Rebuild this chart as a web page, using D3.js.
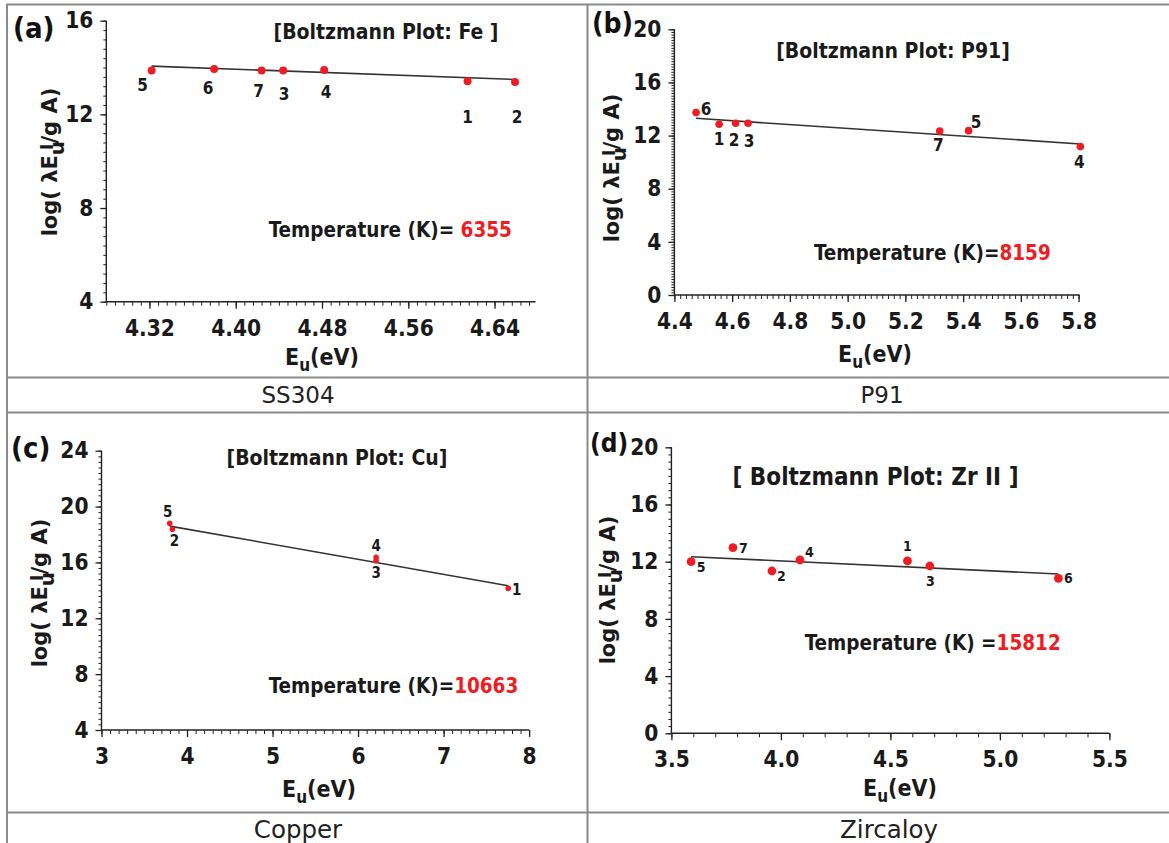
<!DOCTYPE html>
<html><head><meta charset="utf-8">
<script src="https://cdn.jsdelivr.net/npm/d3@7"></script>
<style>
html,body{margin:0;padding:0;background:#fff;}
svg{display:block;}
</style></head><body>
<svg id="chart" width="1169" height="843"></svg>
<script>
// ---------------- data ----------------
// (a) SS304 - Fe lines
const idsA = ["5","6","7","3","4","1","2"];
const energyA = [4.322,4.380,4.424,4.444,4.482,4.615,4.659];
const logIntA = [13.87,13.94,13.87,13.87,13.90,13.41,13.38];
const fitEnergyA = [4.322,4.659];
const fitLogA = [14.06,13.49];
const xTicksA = [4.32,4.40,4.48,4.56,4.64];
const yTicksA = [4,8,12,16];
const tempA = "6355";

// (b) P91
const idsB = ["6","1","2","3","7","5","4"];
const energyB = [4.475,4.555,4.612,4.655,5.319,5.419,5.806];
const logIntB = [13.73,12.85,12.93,12.93,12.35,12.37,11.17];
const fitEnergyB = [4.475,5.806];
const fitLogB = [13.30,11.37];
const xTicksB = [4.4,4.6,4.8,5.0,5.2,5.4,5.6,5.8];
const yTicksB = [0,4,8,12,16,20];
const tempB = "8159";

// (c) Copper
const idsC = ["5","2","4","3","1"];
const energyC = [3.798,3.829,6.211,6.211,7.756];
const logIntC = [18.80,18.37,16.36,16.12,14.14];
const fitEnergyC = [3.798,7.756];
const fitLogC = [18.60,14.33];
const xTicksC = [3,4,5,6,7,8];
const yTicksC = [4,8,12,16,20,24];
const tempC = "10663";

// (d) Zircaloy - Zr II
const idsD = ["5","7","2","4","1","3","6"];
const energyD = [3.590,3.781,3.959,4.087,4.578,4.680,5.267];
const logIntD = [12.00,12.98,11.35,12.12,12.05,11.70,10.84];
const fitEnergyD = [3.590,5.267];
const fitLogD = [12.35,11.14];
const xTicksD = [3.5,4.0,4.5,5.0,5.5];
const yTicksD = [0,4,8,12,16,20];
const tempD = "15812";

const panelLetters = ["(a)","(b)","(c)","(d)"];
const plotTitles = ["[Boltzmann Plot: Fe ]","[Boltzmann Plot: P91]","[Boltzmann Plot: Cu]","[ Boltzmann Plot: Zr II ]"];
const tempPrefixes = ["Temperature (K)= ","Temperature (K)=","Temperature (K)=","Temperature (K) ="];
const captions = ["SS304","P91","Copper","Zircaloy"];

// ---------------- layout (positions / styles) ----------------
const BOLD = "'DejaVu Sans Condensed','DejaVu Sans',sans-serif";
const WIDE = "'DejaVu Sans',sans-serif";
const RED = "#f01c24";

const layout = [
  { xDom:[4.28,4.68], yDom:[4,16], xR:[106.3,537.7], yR:[301.7,20.7], axisEnd:535.5,
    xMinor:0.008, yMinor:0.4, fmt:".2f", r:4, lblSize:17,
    offs:[[-9,14],[-6,19],[-3,20],[1,23],[2,22],[0,36],[2,35]],
    letter:[13,38,29], title:[386,39,21], temp:[268.7,237], xTitle:[322,365], yTitle:[57,162], caption:[298,403,23] },
  { xDom:[4.4,5.8], yDom:[0,20], xR:[674.4,1078.6], yR:[295,29.3], axisEnd:1079.6,
    xMinor:0.02, yMinor:0.2, fmt:".1f", r:3.8, lblSize:17,
    offs:[[10,-4],[0,15],[-1.5,17],[1,18],[-1.5,14],[7.5,-9],[-1,15]],
    letter:[592,33,28], title:[893,58,21], temp:[814,260], xTitle:[875,362], yTitle:[619,168], caption:[882,403,23] },
  { xDom:[3,8], yDom:[4,24], xR:[101.5,529.1], yR:[730,450.7], axisEnd:529.1,
    xMinor:0.1, yMinor:0.4, fmt:"d", r:2.8, lblSize:15,
    offs:[[-2,-11],[2,12],[0,-11],[0,12],[8.5,2]],
    letter:[11,458,29], title:[337,465,21], temp:[268.7,693], xTitle:[319,797], yTitle:[47,593], caption:[298,838,24.5] },
  { xDom:[3.5,5.5], yDom:[0,20], xR:[671.4,1109.4], yR:[733.3,447.3], axisEnd:1109.4,
    xMinor:0.1, yMinor:0.5, fmt:".1f", r:4.4, lblSize:14,
    offs:[[10,5],[10.5,0],[9.5,5],[9.5,-8],[0,-15],[0.5,15],[10,0]],
    letter:[590,452,26], title:[875.5,485,24], temp:[804.7,650], xTitle:[900,796], yTitle:[615,590], caption:[889,838,24.5] }
];

const dataSets = [
  {ids:idsA, e:energyA, v:logIntA, fe:fitEnergyA, fv:fitLogA, xt:xTicksA, yt:yTicksA, temp:tempA},
  {ids:idsB, e:energyB, v:logIntB, fe:fitEnergyB, fv:fitLogB, xt:xTicksB, yt:yTicksB, temp:tempB},
  {ids:idsC, e:energyC, v:logIntC, fe:fitEnergyC, fv:fitLogC, xt:xTicksC, yt:yTicksC, temp:tempC},
  {ids:idsD, e:energyD, v:logIntD, fe:fitEnergyD, fv:fitLogD, xt:xTicksD, yt:yTicksD, temp:tempD}
];

const svg = d3.select("#chart");

// frame (table lines)
const frame = svg.append("g").attr("stroke","#8a8a8a").attr("stroke-width",2).attr("fill","none");
frame.append("line").attr("x1",7).attr("x2",7).attr("y1",4).attr("y2",843);
frame.append("line").attr("x1",587.5).attr("x2",587.5).attr("y1",4).attr("y2",843);
[4.5,377.5,412.5,812.5].forEach(y=>{
  frame.append("line").attr("x1",6).attr("x2",1169).attr("y1",y).attr("y2",y);
});

function range(a,b,s){ const out=[]; const n=Math.round((b-a)/s); for(let i=0;i<=n;i++) out.push(+(a+i*s).toFixed(6)); return out; }

dataSets.forEach((d,i)=>{
  const L = layout[i];
  const g = svg.append("g");
  const x = d3.scaleLinear().domain(L.xDom).range(L.xR);
  const y = d3.scaleLinear().domain(L.yDom).range(L.yR);
  const x0 = L.xR[0], y0 = L.yR[0];

  // minor ticks
  const yMinor = range(L.yDom[0], L.yDom[1], L.yMinor);
  const xMinorVals = range(L.xDom[0], L.xDom[1], L.xMinor).filter(v=>x(v)<=L.axisEnd+0.5 && x(v)>=x0-0.5);
  g.append("g").attr("transform",`translate(${x0},0)`)
    .call(d3.axisLeft(y).tickValues(yMinor).tickSize(3).tickFormat(""))
    .call(s=>s.select(".domain").remove())
    .selectAll("line").attr("stroke","#222").attr("stroke-width",1);
  g.append("g").attr("transform",`translate(0,${y0})`)
    .call(d3.axisBottom(x).tickValues(xMinorVals).tickSize(4).tickFormat(""))
    .call(s=>s.select(".domain").remove())
    .selectAll("line").attr("stroke","#222").attr("stroke-width",1);

  // major axes
  const ya = g.append("g").attr("transform",`translate(${x0},0)`)
    .call(d3.axisLeft(y).tickValues(d.yt).tickSize(6).tickPadding(7).tickSizeOuter(0).tickFormat(d3.format("d")));
  const xa = g.append("g").attr("transform",`translate(0,${y0})`)
    .call(d3.axisBottom(x).tickValues(d.xt).tickSize(7).tickPadding(11).tickSizeOuter(0).tickFormat(d3.format(L.fmt)));
  [ya,xa].forEach(a=>{
    a.selectAll(".domain").remove();
    a.selectAll("line").attr("stroke","#222").attr("stroke-width",1.3);
    a.selectAll("text").attr("font-family",BOLD).attr("font-weight","bold").attr("font-size",22.5).attr("fill","#1a1a1a");
  });
  // axis lines
  g.append("line").attr("x1",x0).attr("x2",x0).attr("y1",y0).attr("y2",L.yR[1]).attr("stroke","#222").attr("stroke-width",1.4);
  g.append("line").attr("x1",x0).attr("x2",L.axisEnd).attr("y1",y0).attr("y2",y0).attr("stroke","#222").attr("stroke-width",1.4);

  // fit line
  g.append("line")
    .attr("x1",x(d.fe[0])).attr("y1",y(d.fv[0]))
    .attr("x2",x(d.fe[1])).attr("y2",y(d.fv[1]))
    .attr("stroke","#333").attr("stroke-width",1.6);

  // points
  const pts = d.e.map((e,k)=>({e, v:d.v[k], id:d.ids[k], off:L.offs[k]}));
  g.selectAll("circle.pt").data(pts).enter().append("circle")
    .attr("cx",p=>x(p.e)).attr("cy",p=>y(p.v)).attr("r",L.r).attr("fill",RED);
  g.selectAll("text.pl").data(pts).enter().append("text")
    .attr("x",p=>x(p.e)+p.off[0]).attr("y",p=>y(p.v)+p.off[1])
    .attr("text-anchor","middle").attr("dominant-baseline","central")
    .attr("font-family",BOLD).attr("font-weight","bold").attr("font-size",L.lblSize).attr("fill","#1a1a1a")
    .text(p=>p.id);

  // panel letter
  g.append("text").attr("x",L.letter[0]).attr("y",L.letter[1])
    .attr("font-family",BOLD).attr("font-weight","bold").attr("font-size",L.letter[2]).attr("fill","#111")
    .text(panelLetters[i]);

  // title
  g.append("text").attr("x",L.title[0]).attr("y",L.title[1]).attr("text-anchor","middle")
    .attr("font-family",BOLD).attr("font-weight","bold").attr("font-size",L.title[2]).attr("fill","#1a1a1a")
    .text(plotTitles[i]);

  // temperature
  const t = g.append("text").attr("x",L.temp[0]).attr("y",L.temp[1])
    .attr("font-family",BOLD).attr("font-weight","bold").attr("font-size",20.5);
  t.append("tspan").attr("fill","#1a1a1a").text(tempPrefixes[i]);
  t.append("tspan").attr("fill",RED).text(d.temp);

  // x title
  const xt = g.append("text").attr("x",L.xTitle[0]).attr("y",L.xTitle[1]).attr("text-anchor","middle")
    .attr("font-family",BOLD).attr("font-weight","bold").attr("font-size",23).attr("fill","#1a1a1a");
  xt.append("tspan").text("E");
  xt.append("tspan").attr("dy",6).attr("font-size",17).text("u");
  xt.append("tspan").attr("dy",-6).text("(eV)");

  // y title
  const yt = g.append("text").attr("transform",`translate(${L.yTitle[0]},${L.yTitle[1]}) rotate(-90)`)
    .attr("text-anchor","middle")
    .attr("font-family",WIDE).attr("font-weight","bold").attr("font-size",21).attr("fill","#1a1a1a");
  yt.append("tspan").text("log( λE");
  yt.append("tspan").attr("dy",7).attr("font-size",20).text("u");
  yt.append("tspan").attr("dy",-11).attr("dx",-9).attr("font-size",17).text("I");
  yt.append("tspan").attr("dy",4).text("/g A)");

  // caption
  svg.append("text").attr("x",L.caption[0]).attr("y",L.caption[1]).attr("text-anchor","middle")
    .attr("font-family",WIDE).attr("font-size",L.caption[2]).attr("fill","#222")
    .text(captions[i]);
});
</script>
</body></html>
